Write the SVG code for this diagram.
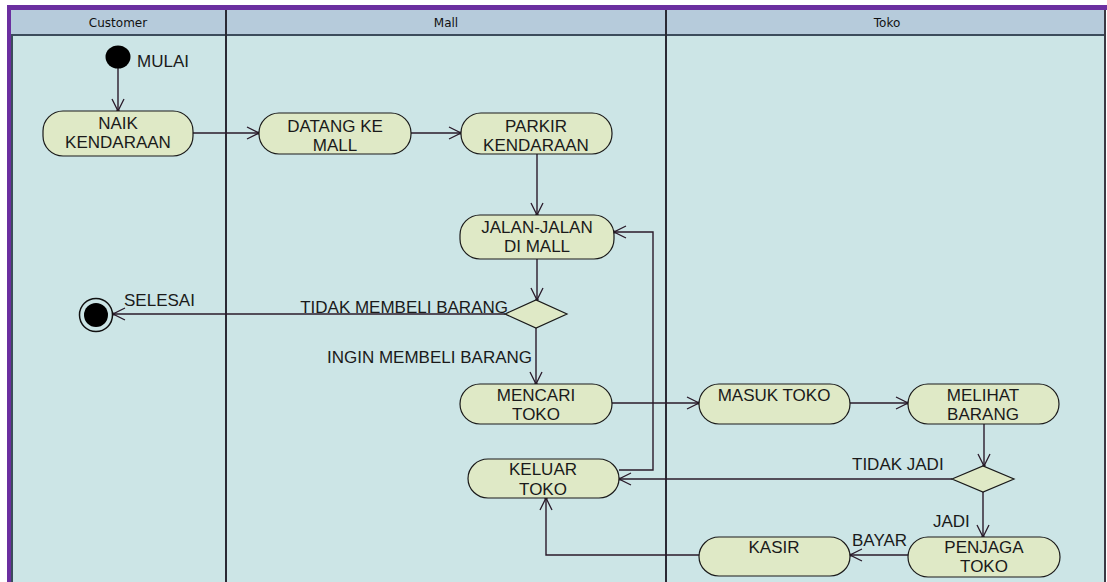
<svg xmlns="http://www.w3.org/2000/svg" width="1107" height="582" viewBox="0 0 1107 582">
<style>
.node{fill:#dfe9c6;stroke:#1a1a1a;stroke-width:1.2}
.t{font-family:"Liberation Sans",Arial,sans-serif;font-size:17px;fill:#1a1a1a}
.h{font-family:"DejaVu Sans",sans-serif;font-size:12px;fill:#111;text-anchor:middle}
.c{text-anchor:middle}
.e{text-anchor:end}
.conn path{fill:none;stroke:#2a1a2a;stroke-width:1.4;marker-end:url(#arr)}
</style>
<defs>
<marker id="arr" viewBox="0 0 14 14" refX="13" refY="7" markerWidth="14" markerHeight="14" markerUnits="userSpaceOnUse" orient="auto">
<path d="M1,1 L13,7 L1,13" fill="none" stroke="#2a1a2a" stroke-width="1.3"/>
<circle cx="12.5" cy="7" r="1.6" fill="#2a1a2a"/>
</marker>
</defs>
<rect x="0" y="0" width="1107" height="582" fill="#ffffff"/>
<rect x="7" y="5" width="1100" height="5" fill="#6b2fa0"/>
<rect x="7" y="5" width="4" height="577" fill="#6b2fa0"/>
<rect x="11" y="10" width="1094" height="572" fill="#cce5e6"/>
<rect x="11" y="10" width="1094" height="25" fill="#b6cbdb"/>
<line x1="11" y1="35" x2="1105" y2="35" stroke="#3c4c5c" stroke-width="2"/>
<line x1="12" y1="35" x2="12" y2="582" stroke="#3c4c5c" stroke-width="2"/>
<line x1="226" y1="10" x2="226" y2="582" stroke="#2a2a34" stroke-width="2"/>
<line x1="666" y1="10" x2="666" y2="582" stroke="#2a2a34" stroke-width="2"/>
<line x1="1105" y1="10" x2="1105" y2="582" stroke="#3a3a44" stroke-width="2"/>
<text class="h" x="118" y="27">Customer</text>
<text class="h" x="446" y="27">Mall</text>
<text class="h" x="887" y="27">Toko</text>

<g class="conn" id="connectors">
<path d="M118,68 V111"/>
<path d="M193,133 H259"/>
<path d="M411,133 H461"/>
<path d="M537,154 V215"/>
<path d="M537,259 V300"/>
<path d="M505,314 H113"/>
<path d="M536,328 V384"/>
<path d="M612,403 H699"/>
<path d="M850,403 H908"/>
<path d="M984,424 V466"/>
<path d="M952,479 H619"/>
<path d="M619,470 H653 V232 H614"/>
<path d="M983,492 V537"/>
<path d="M908,555 H850"/>
<path d="M699,555 H546 V498"/>
</g>

<g id="start"><ellipse cx="118" cy="57" rx="12.5" ry="11.5" fill="#000"/><text class="t" x="137" y="67">MULAI</text></g>
<g id="naik"><rect class="node" x="43" y="111" width="150" height="45" rx="20" ry="20"/><text class="t c" x="118" y="129">NAIK</text><text class="t c" x="118" y="148">KENDARAAN</text></g>
<g id="datang"><rect class="node" x="259" y="113" width="152" height="41" rx="20" ry="20"/><text class="t c" x="335" y="132">DATANG KE</text><text class="t c" x="335" y="151">MALL</text></g>
<g id="parkir"><rect class="node" x="461" y="113" width="151" height="41" rx="20" ry="20"/><text class="t c" x="536" y="132">PARKIR</text><text class="t c" x="536" y="151">KENDARAAN</text></g>
<g id="jalan"><rect class="node" x="460" y="215" width="154" height="44" rx="20" ry="20"/><text class="t c" x="537" y="233">JALAN-JALAN</text><text class="t c" x="537" y="252">DI MALL</text></g>
<g id="dec1"><polygon points="505,314 536,300 567,314 536,328" fill="#dfe9c6" stroke="#1a1a1a" stroke-width="1.2"/><text class="t e" x="508" y="313">TIDAK MEMBELI BARANG</text><text class="t e" x="532" y="363">INGIN MEMBELI BARANG</text></g>
<g id="end"><circle cx="96" cy="315" r="16.5" fill="#cce5e6" stroke="#111" stroke-width="1.5"/><circle cx="96" cy="315" r="12" fill="#000"/><text class="t" x="124" y="306">SELESAI</text></g>
<g id="mencari"><rect class="node" x="460" y="384" width="152" height="40" rx="20" ry="20"/><text class="t c" x="536" y="401">MENCARI</text><text class="t c" x="536" y="420">TOKO</text></g>
<g id="masuk"><rect class="node" x="699" y="384" width="151" height="40" rx="20" ry="20"/><text class="t c" x="774" y="401">MASUK TOKO</text></g>
<g id="melihat"><rect class="node" x="908" y="384" width="151" height="40" rx="20" ry="20"/><text class="t c" x="983" y="401">MELIHAT</text><text class="t c" x="983" y="420">BARANG</text></g>
<g id="dec2"><polygon points="952,479 983,466 1014,479 983,492" fill="#dfe9c6" stroke="#1a1a1a" stroke-width="1.2"/><text class="t" x="852" y="470">TIDAK JADI</text><text class="t" x="933" y="527">JADI</text></g>
<g id="keluar"><rect class="node" x="468" y="459" width="151" height="39" rx="20" ry="20"/><text class="t c" x="543" y="475">KELUAR</text><text class="t c" x="543" y="495">TOKO</text></g>
<g id="penjaga"><rect class="node" x="908" y="537" width="152" height="40" rx="20" ry="20"/><text class="t c" x="984" y="553">PENJAGA</text><text class="t c" x="984" y="572">TOKO</text><text class="t" x="852" y="546">BAYAR</text></g>
<g id="kasir"><rect class="node" x="699" y="537" width="151" height="39" rx="20" ry="20"/><text class="t c" x="774" y="553">KASIR</text></g>
</svg>
